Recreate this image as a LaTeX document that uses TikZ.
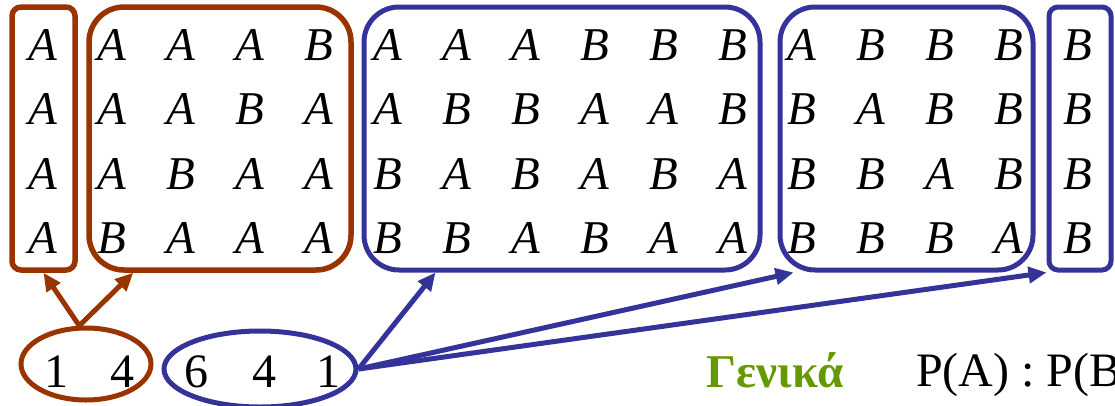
\documentclass[tikz,border=0pt]{standalone}
\usepackage{fontspec}
\setmainfont{Liberation Serif}
\usetikzlibrary{arrows.meta,shapes.geometric}
\definecolor{brn}{HTML}{993300}
\definecolor{blu}{HTML}{333399}
\definecolor{grn}{HTML}{669900}
\tikzset{
  bbox/.style = {draw=brn, line width=5.5pt, inner sep=0pt},
  ubox/.style = {draw=blu, line width=5pt, inner sep=0pt},
  bell/.style = {ellipse, draw=brn, line width=5pt, inner sep=0pt},
  uell/.style = {ellipse, draw=blu, line width=5pt, inner sep=0pt},
  lett/.style = {font=\fontsize{47}{50}\selectfont\itshape, anchor=base, inner sep=0pt},
  num/.style  = {font=\fontsize{48}{52}\selectfont, anchor=base, inner sep=0pt},
  barr/.style = {-{Triangle[length=18pt,width=16pt]}, draw=brn, line width=5pt},
  uarr/.style = {-{Triangle[length=18pt,width=16pt]}, draw=blu, line width=5pt},
}

\begin{document}
\begin{tikzpicture}[x=1pt,y=-1pt]
  \useasboundingbox (0,0) rectangle (1115,405);
  \clip (0,0) rectangle (1115,405);
  \foreach \row [count=\r] in {{A,A,A,A,B,A,A,A,B,B,B,A,B,B,B,B},
                               {A,A,A,B,A,A,B,B,A,A,B,B,A,B,B,B},
                               {A,A,B,A,A,B,A,B,A,B,A,B,B,A,B,B},
                               {A,B,A,A,A,B,B,A,B,A,A,B,B,B,A,B}}
    \foreach \s [count=\c] in \row
      \node[lett] (l\r-\c) at ({43+69*(\c-1)},{60+64.6*(\r-1)}) {\s};
  \node[bbox, rounded corners=9pt, minimum width=63pt, minimum height=263pt] (g1) at (43.5,138.5) {};
  \node[bbox, rounded corners=35pt, minimum width=262pt, minimum height=263pt] (g2) at (220,138.5) {};
  \node[ubox, rounded corners=35pt, minimum width=396pt, minimum height=263pt] (g3) at (562,138.5) {};
  \node[ubox, rounded corners=35pt, minimum width=253pt, minimum height=263pt] (g4) at (906.5,138.5) {};
  \node[ubox, rounded corners=9pt, minimum width=62pt, minimum height=263pt] (g5) at (1080,138.5) {};
  \node[bell, minimum width=130pt, minimum height=72pt] (e1) at (86,364) {};
  \node[uell, minimum width=192pt, minimum height=76pt] (e2) at (260,369) {};
  \node[num] (t1) at (89,387) {1\hspace{42pt}4};
  \node[num] (t2) at (262,387) {6\hspace{45pt}4\hspace{39pt}1};
  \node[font=\fontsize{47}{50}\selectfont\bfseries, text=grn, anchor=base] (gen) at (775,387) {Γενικά};
  \node[num, anchor=base west] (ratio) at (916,386) {P(A) : P(B)};
  \draw[barr] (e1.100) -- (g1.south);
  \draw[barr] (e1.100) -- ([xshift=47pt]g2.south west);
  \draw[uarr] (e2.east) -- ([xshift=74pt]g3.south west);
  \draw[uarr] (e2.east) -- ([xshift=16pt]g4.south west);
  \draw[uarr] (e2.east) -- (g5.south west);
\end{tikzpicture}
\end{document}
